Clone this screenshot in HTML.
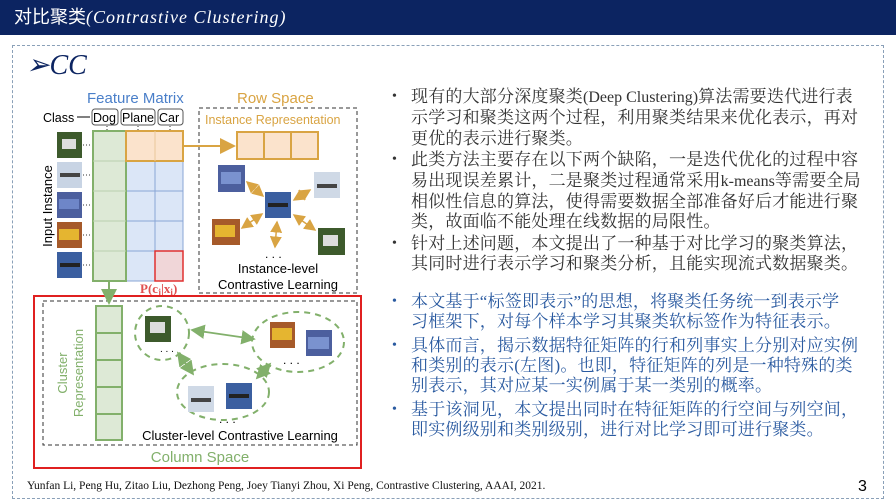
<!DOCTYPE html>
<html><head><meta charset="utf-8"><style>
body{margin:0;width:896px;height:504px;overflow:hidden;background:#fff;position:relative;font-family:"Liberation Serif","Noto Serif CJK SC",serif}
.hdr{position:absolute;left:0;top:0;width:896px;height:35px;background:#0c2461;color:#fff;font-size:18px;line-height:35px;padding-left:14px;box-sizing:border-box;font-family:"Liberation Sans","Noto Sans CJK SC",sans-serif}
.hdr i{font-family:"Liberation Serif",serif;letter-spacing:1px}
.frame{position:absolute;left:12px;top:45px;width:872px;height:454px;border:1px dashed #8aa0b8;box-sizing:border-box}
.txt{position:absolute;left:392px;width:490px;font-size:17px;letter-spacing:0.2px;line-height:20.4px;font-family:"Liberation Serif","Noto Serif CJK SC",serif;white-space:nowrap}
.txt ul{margin:0;padding:0;list-style:none}
.txt li{position:relative;padding-left:19px;margin-bottom:1px}
.txt li:before{content:"•";position:absolute;left:0;top:0;font-size:14px}
.txt .l{letter-spacing:0;font-size:16px}
</style></head><body>
<div class="hdr">对比聚类<i>(Contrastive Clustering)</i></div>
<div class="frame"></div>
<div style="position:absolute;left:26px;top:48px;font-size:28px;color:#0c2461;font-style:italic">➢CC</div>
<div class="txt" style="top:87px;color:#333"><ul>
<li>现有的大部分深度聚类<span class="l">(Deep Clustering)</span>算法需要迭代进行表<br>示学习和聚类这两个过程，利用聚类结果来优化表示，再对<br>更优的表示进行聚类。</li>
<li>此类方法主要存在以下两个缺陷，一是迭代优化的过程中容<br>易出现误差累计，二是聚类过程通常采用<span class="l">k-means</span>等需要全局<br>相似性信息的算法，使得需要数据全部准备好后才能进行聚<br>类，故面临不能处理在线数据的局限性。</li>
<li>针对上述问题，本文提出了一种基于对比学习的聚类算法，<br>其同时进行表示学习和聚类分析，且能实现流式数据聚类。</li>
</ul></div>
<div class="txt" style="top:292px;color:#2a5aa0;line-height:20px"><ul>
<li style="margin-bottom:4px">本文基于“标签即表示”的思想，将聚类任务统一到表示学<br>习框架下，对每个样本学习其聚类软标签作为特征表示。</li>
<li style="margin-bottom:4px">具体而言，揭示数据特征矩阵的行和列事实上分别对应实例<br>和类别的表示(左图)。也即，特征矩阵的列是一种特殊的类<br>别表示，其对应某一实例属于某一类别的概率。</li>
<li>基于该洞见，本文提出同时在特征矩阵的行空间与列空间，<br>即实例级别和类别级别，进行对比学习即可进行聚类。</li>
</ul></div>
<div style="position:absolute;left:27px;top:480px;font-size:11.5px;color:#111">Yunfan Li, Peng Hu, Zitao Liu, Dezhong Peng, Joey Tianyi Zhou, Xi Peng, Contrastive Clustering, AAAI, 2021.</div>
<div style="position:absolute;left:858px;top:478px;font-size:16px;font-family:'Liberation Sans',sans-serif">3</div>
<svg width="896" height="504" style="position:absolute;left:0;top:0" font-family="Liberation Sans, sans-serif">
<defs>
<marker id="ao" markerWidth="8" markerHeight="8" refX="7" refY="4" orient="auto-start-reverse"><path d="M0,0L8,4L0,8z" fill="#d9a443"/></marker>
<marker id="ag" markerWidth="8" markerHeight="8" refX="7" refY="4" orient="auto-start-reverse"><path d="M0,0L8,4L0,8z" fill="#82b06b"/></marker>
</defs>
<text x="87" y="103" font-size="15" fill="#4a7fc9">Feature Matrix</text>
<text x="237" y="103" font-size="15" fill="#d9a443">Row Space</text>
<text x="43" y="122" font-size="12.5">Class</text>
<line x1="77" y1="117" x2="90" y2="117" stroke="#000"/>
<g fill="#fff" stroke="#555"><rect x="92" y="109" width="26" height="16" rx="3"/><rect x="121" y="109" width="34" height="16" rx="3"/><rect x="158" y="109" width="25" height="16" rx="3"/></g>
<g font-size="12.5"><text x="93" y="122">Dog</text><text x="122" y="122">Plane</text><text x="159" y="122">Car</text></g>
<g stroke="#333" stroke-dasharray="1,2"><line x1="107" y1="126" x2="107" y2="131"/><line x1="138" y1="126" x2="138" y2="131"/><line x1="170" y1="126" x2="170" y2="131"/></g>
<text transform="translate(52,206) rotate(-90)" text-anchor="middle" font-size="13">Input Instance</text>
<g><rect x="57" y="132" width="25" height="26" fill="#3d5a2c"/><rect x="62" y="139" width="14" height="10" fill="#ddd"/>
<rect x="57" y="162" width="25" height="26" fill="#c8d4e4"/><rect x="60" y="173" width="20" height="4" fill="#444"/>
<rect x="57" y="192" width="25" height="26" fill="#4c5f9e"/><rect x="59" y="199" width="20" height="10" fill="#6e86c8"/>
<rect x="57" y="222" width="25" height="26" fill="#a65a2a"/><rect x="59" y="229" width="20" height="11" fill="#e5b530"/>
<rect x="57" y="252" width="25" height="26" fill="#3b5fa0"/><rect x="60" y="263" width="20" height="4" fill="#222"/></g>
<g stroke="#333" stroke-dasharray="1,2"><line x1="83" y1="145" x2="93" y2="145"/><line x1="83" y1="175" x2="93" y2="175"/><line x1="83" y1="205" x2="93" y2="205"/><line x1="83" y1="235" x2="93" y2="235"/><line x1="83" y1="265" x2="93" y2="265"/></g>
<rect x="126" y="161" width="57" height="120" fill="#dbe6f7"/>
<g stroke="#8aa6d6" fill="none"><line x1="155" y1="161" x2="155" y2="281"/><line x1="126" y1="191" x2="183" y2="191"/><line x1="126" y1="221" x2="183" y2="221"/><line x1="126" y1="251" x2="183" y2="251"/><line x1="183" y1="161" x2="183" y2="281"/><line x1="126" y1="281" x2="183" y2="281"/></g>
<rect x="155" y="251" width="28" height="30" fill="#f0d6d8" stroke="#e03030" stroke-width="1.5"/>
<rect x="93" y="131" width="33" height="150" fill="#dde9d6" stroke="#82b06b" stroke-width="2"/>
<g stroke="#b9d0ad"><line x1="93" y1="161" x2="126" y2="161"/><line x1="93" y1="191" x2="126" y2="191"/><line x1="93" y1="221" x2="126" y2="221"/><line x1="93" y1="251" x2="126" y2="251"/></g>
<rect x="126" y="131" width="57" height="30" fill="#fbe3cc" stroke="#d9a443" stroke-width="2"/>
<line x1="155" y1="131" x2="155" y2="161" stroke="#eac79a"/>
<text x="140" y="293" font-size="13" fill="#e05050" font-family="Liberation Serif,serif" font-weight="bold">P(c<tspan font-size="9" dy="2">j</tspan><tspan dy="-2">|x</tspan><tspan font-size="9" dy="2">i</tspan><tspan dy="-2">)</tspan></text>
<rect x="199" y="108" width="158" height="185" fill="none" stroke="#333" stroke-dasharray="4,3"/>
<text x="205" y="124" font-size="12.5" fill="#d9a443">Instance Representation</text>
<line x1="183" y1="146" x2="234" y2="146" stroke="#d9a443" stroke-width="2" marker-end="url(#ao)"/>
<rect x="237" y="132" width="81" height="27" fill="#fbe3cc" stroke="#d9a443" stroke-width="2"/>
<g stroke="#d9a443" stroke-width="2"><line x1="264" y1="132" x2="264" y2="159"/><line x1="291" y1="132" x2="291" y2="159"/></g>
<g stroke="#d9a443" stroke-width="1.5" marker-start="url(#ao)" marker-end="url(#ao)">
<line x1="247" y1="182" x2="263" y2="196"/><line x1="294" y1="200" x2="310" y2="190"/><line x1="242" y1="228" x2="262" y2="214"/><line x1="294" y1="215" x2="315" y2="230"/><line x1="277" y1="222" x2="275" y2="247"/></g>
<rect x="218" y="165" width="27" height="27" fill="#4c5f9e"/><rect x="221" y="172" width="20" height="12" fill="#7a92cf"/>
<rect x="265" y="192" width="26" height="26" fill="#3b5fa0"/><rect x="268" y="203" width="20" height="4" fill="#222"/>
<rect x="314" y="172" width="26" height="26" fill="#cfd9e6"/><rect x="317" y="184" width="20" height="4" fill="#444"/>
<rect x="212" y="219" width="28" height="26" fill="#a65a2a"/><rect x="215" y="225" width="20" height="12" fill="#e5b530"/>
<rect x="318" y="228" width="27" height="27" fill="#3d5a2c"/><rect x="323" y="235" width="15" height="11" fill="#ddd"/>
<text x="265" y="258" font-size="12">. . .</text>
<text x="278" y="273" font-size="13" text-anchor="middle">Instance-level</text>
<text x="278" y="289" font-size="13" text-anchor="middle">Contrastive Learning</text>
<rect x="34" y="296" width="327" height="172" fill="none" stroke="#e02020" stroke-width="2"/>
<rect x="43" y="301" width="314" height="144" fill="none" stroke="#333" stroke-dasharray="4,3"/>
<line x1="109" y1="281" x2="109" y2="303" stroke="#82b06b" stroke-width="2" marker-end="url(#ag)"/>
<rect x="96" y="306" width="26" height="134" fill="#dde9d6" stroke="#82b06b" stroke-width="2"/>
<g stroke="#82b06b" stroke-width="2"><line x1="96" y1="333" x2="122" y2="333"/><line x1="96" y1="360" x2="122" y2="360"/><line x1="96" y1="387" x2="122" y2="387"/><line x1="96" y1="414" x2="122" y2="414"/></g>
<g font-size="13" fill="#82b06b" text-anchor="middle"><text transform="translate(67,373) rotate(-90)">Cluster</text><text transform="translate(83,373) rotate(-90)">Representation</text></g>
<g fill="none" stroke="#82b06b" stroke-width="2" stroke-dasharray="6,5"><ellipse cx="162" cy="333" rx="27" ry="27"/><ellipse cx="298" cy="342" rx="46" ry="30"/><ellipse cx="223" cy="392" rx="46" ry="28"/></g>
<g stroke="#82b06b" stroke-width="1.8" marker-start="url(#ag)" marker-end="url(#ag)"><line x1="192" y1="330" x2="254" y2="339"/><line x1="178" y1="353" x2="193" y2="374"/><line x1="270" y1="364" x2="257" y2="378"/></g>
<rect x="145" y="316" width="26" height="26" fill="#3d5a2c"/><rect x="150" y="322" width="15" height="11" fill="#ddd"/>
<rect x="270" y="322" width="25" height="26" fill="#a65a2a"/><rect x="272" y="328" width="20" height="12" fill="#e5b530"/>
<rect x="306" y="330" width="26" height="26" fill="#4c5f9e"/><rect x="308" y="337" width="21" height="12" fill="#7a92cf"/>
<rect x="188" y="386" width="26" height="26" fill="#cfd9e6"/><rect x="191" y="398" width="20" height="4" fill="#444"/>
<rect x="226" y="383" width="26" height="26" fill="#3b5fa0"/><rect x="229" y="394" width="20" height="4" fill="#222"/>
<text x="160" y="352" font-size="10">. . .</text><text x="283" y="364" font-size="12">. . .</text><text x="219" y="423" font-size="12">. . .</text>
<text x="240" y="440" font-size="13" text-anchor="middle">Cluster-level Contrastive Learning</text>
<text x="200" y="462" font-size="15" text-anchor="middle" fill="#82b06b">Column Space</text>
</svg>
</body></html>
